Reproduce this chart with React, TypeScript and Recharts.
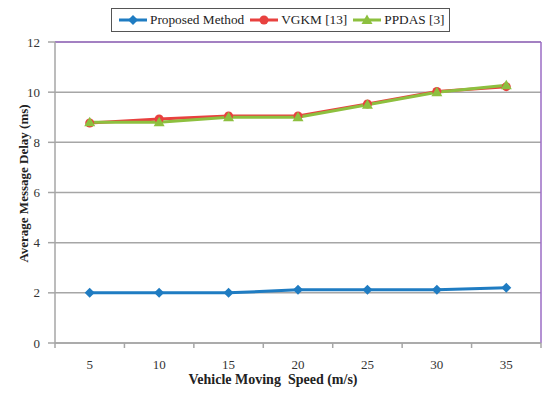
import React from 'react';
import { LineChart, Line, XAxis, YAxis, CartesianGrid, Legend, ReferenceLine, Label } from 'recharts';

const speeds = [5, 10, 15, 20, 25, 30, 35];
const proposed = [2.0, 2.0, 2.0, 2.12, 2.12, 2.12, 2.2];
const vgkm = [8.77, 8.93, 9.05, 9.05, 9.53, 10.03, 10.22];
const ppdas = [8.8, 8.8, 9.0, 9.0, 9.5, 10.0, 10.28];
const yTicks = [0, 2, 4, 6, 8, 10, 12];
const xBoundaryTicks = [2.5, 7.5, 12.5, 17.5, 22.5, 27.5, 32.5, 37.5];

const BLUE = '#1f7cc2';
const RED = '#e8413f';
const GREEN = '#8dc03f';
const PURPLE = '#9b6cc4';
const GRID = '#a6a6a6';
const FONT = '"Liberation Serif", "Times New Roman", serif';

const data = speeds.map((s, i) => ({ speed: s, proposed: proposed[i], vgkm: vgkm[i], ppdas: ppdas[i] }));

const xTicks = [...xBoundaryTicks, ...speeds].sort((a, b) => a - b);

const XTick = (props: any) => {
  const { x, y, payload } = props;
  const v = payload.value;
  if (xBoundaryTicks.includes(v)) {
    return <line x1={x} y1={y} x2={x} y2={y + 5} stroke={GRID} strokeWidth={1.5} />;
  }
  return (
    <text x={x} y={y + 26} textAnchor="middle" fontFamily={FONT} fontSize={13} fill="#333">
      {v}
    </text>
  );
};

const Diamond = (props: any) => {
  const { cx, cy, key } = props;
  const r = 5;
  return <path key={key} d={`M${cx},${cy - r} L${cx + r},${cy} L${cx},${cy + r} L${cx - r},${cy} Z`} fill={BLUE} />;
};
const Circle = (props: any) => {
  const { cx, cy, key } = props;
  return <circle key={key} cx={cx} cy={cy} r={4.5} fill={RED} />;
};
const Triangle = (props: any) => {
  const { cx, cy, key } = props;
  return <path key={key} d={`M${cx},${cy - 5.5} L${cx + 5.5},${cy + 4} L${cx - 5.5},${cy + 4} Z`} fill={GREEN} />;
};

const legendItems = [
  { name: 'Proposed Method', color: BLUE, shape: 'diamond' },
  { name: 'VGKM [13]', color: RED, shape: 'circle' },
  { name: 'PPDAS [3]', color: GREEN, shape: 'triangle' },
];

const LegendContent = () => (
  <div
    style={{
      border: '1px solid #555',
      display: 'flex',
      alignItems: 'center',
      height: 24,
      paddingLeft: 7,
      fontFamily: FONT,
      fontSize: 13.3,
      color: '#222',
      boxSizing: 'border-box',
      width: 339,
      whiteSpace: 'nowrap',
      overflow: 'hidden',
    }}
  >
    {legendItems.map((it) => (
      <div key={it.name} style={{ display: 'flex', alignItems: 'center', marginRight: 6, flexShrink: 0 }}>
        <svg width={28} height={12} style={{ marginRight: 3, flexShrink: 0 }}>
          <line x1={0} y1={6} x2={28} y2={6} stroke={it.color} strokeWidth={3} />
          {it.shape === 'diamond' && <path d="M14,1 L19,6 L14,11 L9,6 Z" fill={it.color} />}
          {it.shape === 'circle' && <circle cx={14} cy={6} r={4.5} fill={it.color} />}
          {it.shape === 'triangle' && <path d="M14,0.5 L19.5,10 L8.5,10 Z" fill={it.color} />}
        </svg>
        <span>{it.name}</span>
      </div>
    ))}
  </div>
);

const XLabel = (props: any) => {
  const { viewBox } = props;
  const cx = viewBox.x + viewBox.width / 2 - 25;
  return (
    <text x={cx} y={viewBox.y + 41} textAnchor="middle" fontFamily={FONT} fontSize={14} fontWeight="bold" fill="#222">
      Vehicle Moving{'\u00a0\u00a0'}Speed (m/s)
    </text>
  );
};

const YLabel = (props: any) => {
  const { viewBox } = props;
  const cy = viewBox.y + viewBox.height / 2 - 9;
  const cx = 28;
  return (
    <text
      x={cx}
      y={cy}
      textAnchor="middle"
      transform={`rotate(-90 ${cx} ${cy})`}
      fontFamily={FONT}
      fontSize={13}
      fontWeight="bold"
      fill="#222"
    >
      Average Message Delay (ms)
    </text>
  );
};

export default function App() {
  return (
    <div style={{ position: 'absolute', left: 0, top: 0, width: 550, height: 397, background: '#fff' }}>
      <LineChart width={550} height={397} data={data} margin={{ top: 42, right: 9, left: 0, bottom: 0 }}>
        <CartesianGrid vertical={false} stroke={GRID} strokeWidth={1.5} />
        <XAxis
          dataKey="speed"
          type="number"
          domain={[2.5, 37.5]}
          ticks={xTicks}
          interval={0}
          tick={<XTick />}
          tickLine={false}
          tickSize={0}
          tickMargin={0}
          stroke={GRID}
          strokeWidth={1.5}
          height={54}
        >
          <Label content={<XLabel />} />
        </XAxis>
        <YAxis
          domain={[0, 12]}
          ticks={yTicks}
          interval={0}
          width={55}
          tickSize={7}
          tickMargin={8}
          stroke={GRID}
          strokeWidth={1.5}
          tick={{ fontFamily: FONT, fontSize: 13, fill: '#333' }}
        >
          <Label content={<YLabel />} />
        </YAxis>
        <ReferenceLine y={12} stroke={PURPLE} strokeWidth={1.5} />
        <ReferenceLine x={37.5} stroke={PURPLE} strokeWidth={1.5} />
        <Legend
          layout="horizontal"
          verticalAlign="middle"
          align="center"
          content={<LegendContent />}
          wrapperStyle={{ position: 'absolute', top: 8, left: 111, width: 339, height: 24 }}
        />
        <Line dataKey="proposed" stroke={BLUE} strokeWidth={3} dot={<Diamond />} isAnimationActive={false} />
        <Line dataKey="vgkm" stroke={RED} strokeWidth={3} dot={<Circle />} isAnimationActive={false} />
        <Line dataKey="ppdas" stroke={GREEN} strokeWidth={3} dot={<Triangle />} isAnimationActive={false} />
      </LineChart>
    </div>
  );
}
